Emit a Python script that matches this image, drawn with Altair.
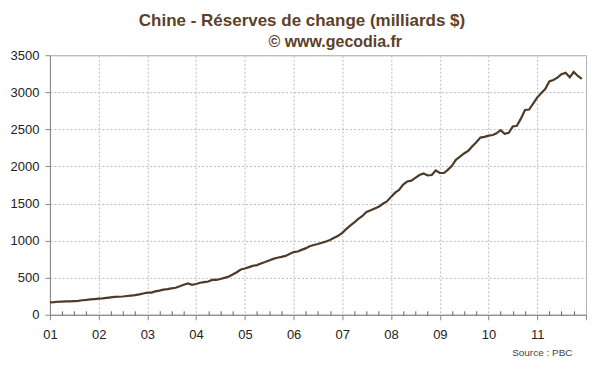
import altair as alt
import pandas as pd

# Chinese FX reserves, billions USD, monthly Jan 2001 - Dec 2011
reserves = [
    168.3, 170.8, 175.9, 177.5, 180.1, 180.9, 184.9, 187.4, 195.9, 200.3, 207.6, 212.2,   # 2001
    217.0, 220.1, 228.0, 235.7, 240.7, 242.8, 246.5, 252.8, 258.6, 264.7, 274.6, 286.4,   # 2002
    297.5, 299.5, 316.1, 326.0, 340.0, 346.5, 356.5, 364.7, 384.0, 405.0, 422.0, 403.3,   # 2003
    415.7, 431.8, 439.8, 448.8, 470.6, 470.6, 483.1, 498.2, 514.5, 542.5, 573.4, 609.9,   # 2004
    623.6, 642.6, 659.1, 670.3, 691.0, 711.0, 732.7, 753.3, 769.0, 780.4, 794.2, 818.9,   # 2005
    845.2, 853.7, 875.1, 895.0, 925.0, 941.1, 954.5, 971.8, 987.9, 1009.6, 1039.0, 1066.3,  # 2006
    1104.7, 1158.2, 1202.0, 1246.6, 1292.7, 1332.6, 1385.2, 1408.6, 1433.6, 1454.9, 1496.9, 1528.2,  # 2007
    1589.8, 1647.1, 1682.2, 1756.7, 1797.0, 1808.8, 1845.2, 1884.3, 1905.6, 1879.7, 1884.7, 1946.0,  # 2008
    1913.5, 1912.1, 1953.7, 2008.9, 2089.5, 2131.6, 2174.6, 2210.8, 2272.6, 2327.3, 2388.9, 2399.2,  # 2009
    2415.2, 2424.6, 2447.1, 2490.5, 2439.5, 2454.3, 2538.4, 2547.8, 2648.3, 2760.9, 2767.8, 2847.3,  # 2010
    2931.7, 2991.4, 3044.7, 3146.0, 3166.4, 3197.5, 3245.3, 3262.5, 3201.7, 3273.8, 3220.8, 3181.1,  # 2011
]
years = list(range(2001, 2013))
y_ticks = [0, 500, 1000, 1500, 2000, 2500, 3000, 3500]

dates = pd.date_range("2001-01-01", periods=len(reserves), freq="MS")
df = pd.DataFrame({"date": dates, "value": reserves})

year_vals = [alt.DateTime(year=y, month=1, date=1) for y in years]
quarter_vals = [alt.DateTime(year=y, month=m, date=1) for y in years[:-1] for m in (4, 7, 10)]

xscale = alt.Scale(domain=[alt.DateTime(year=2001, month=1, date=1),
                           alt.DateTime(year=2012, month=1, date=1)])
yscale = alt.Scale(domain=[0, 3500], nice=False)

line_color = "#4e3b27"

yaxis = alt.Axis(values=y_ticks, format="d", grid=True, gridDash=[2, 2], gridColor="#bbbbbb",
                 tickSize=5, tickColor="#888888", domainColor="#888888",
                 labelFontSize=13, labelColor="#222222", labelPadding=6,
                 title=None)

main = alt.Chart(df).mark_line(color=line_color, strokeWidth=2.2).encode(
    x=alt.X("date:T", scale=xscale,
            axis=alt.Axis(values=year_vals, format="%y", labelFlush=False,
                          labelExpr="year(datum.value) > 2011 ? '' : timeFormat(datum.value, '%y')",
                          grid=True, gridDash=[2, 2], gridColor="#bbbbbb",
                          tickSize=5, tickColor="#888888", domainColor="#888888",
                          labelFontSize=13, labelColor="#222222", labelPadding=9,
                          title="Source : PBC", titleFontSize=10, titleFontWeight="normal",
                          titleColor="#444444", titleAnchor="end", titleAlign="right",
                          titleX=523, titleY=41, titleBaseline="alphabetic")),
    y=alt.Y("value:Q", scale=yscale, axis=yaxis),
)

minor = alt.Chart(df).mark_line(opacity=0).encode(
    x=alt.X("date:T", scale=xscale,
            axis=alt.Axis(orient="top", offset=-260, values=quarter_vals,
                          labels=False, domain=False, grid=False,
                          tickSize=4, tickColor="#666666", title=None)),
    y=alt.Y("value:Q", scale=yscale, axis=yaxis),
)

chart = alt.layer(main, minor).resolve_axis(x="independent").properties(
    width=537, height=260,
    padding={"left": 2, "top": 4, "right": 5, "bottom": 5},
    title=alt.TitleParams(
        text="Chine - Réserves de change (milliards $)",
        subtitle="\u200b" + "\u00a0" * 15 + "© www.gecodia.fr",
        fontSize=17, fontWeight="bold", color="#5c4128",
        subtitleFontSize=16, subtitleFontWeight="bold", subtitleColor="#5c4128",
        subtitlePadding=4, offset=-2, dx=-16, anchor="middle",
    ),
).configure(font="Liberation Sans").configure_view(stroke="#aaaaaa", strokeWidth=1)

chart.save("out.html", embed_options={"renderer": "svg", "actions": False})
